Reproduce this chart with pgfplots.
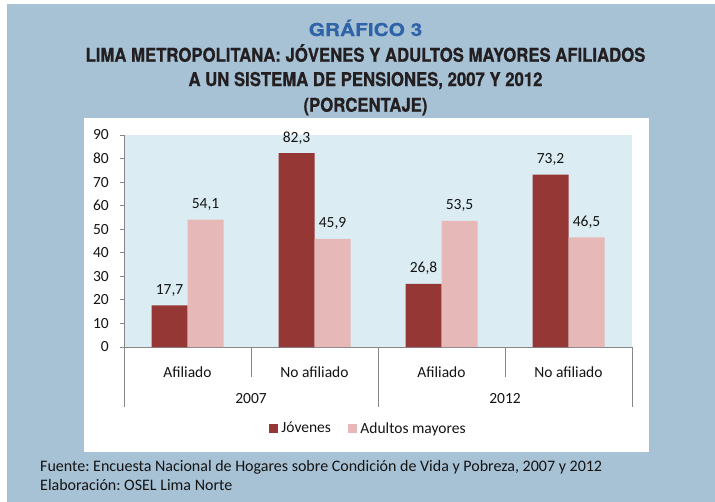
\documentclass[border=0pt]{standalone}
\usepackage{pgfplots}
\pgfplotsset{compat=1.18}
\usepackage{fontspec}
\setmainfont{Carlito}
\newfontfamily\titlefont[FakeStretch=0.88,FakeBold=0.8]{TeX Gyre Heros}
\newfontfamily\gtitlefont[FakeStretch=1.18,FakeBold=0.4]{TeX Gyre Heros}
\definecolor{bgblue}{RGB}{167,193,213}
\definecolor{plotbg}{RGB}{219,237,243}
\definecolor{jov}{RGB}{149,55,53}
\definecolor{adu}{RGB}{230,185,184}
\definecolor{axisgray}{RGB}{134,134,134}
\definecolor{titleblue}{RGB}{46,99,168}
\definecolor{titledark}{RGB}{35,31,32}
\definecolor{txt}{RGB}{20,20,20}
\newcommand{\cf}{\fontsize{15.5bp}{18bp}\selectfont}
\frenchspacing
\begin{document}
\frenchspacing
\begin{tikzpicture}
\fill[white] (0,0) rectangle (715bp,-502bp);
\fill[bgblue] (7bp,-4bp) rectangle (715bp,-502bp);
\fill[white] (84bp,-118bp) rectangle (649bp,-452bp);
\node[anchor=base, inner sep=0pt, text=titleblue, font=\gtitlefont\bfseries\fontsize{17.7bp}{20bp}\selectfont] at (365.5bp,-36bp) {GRÁFICO 3};
\node[anchor=base, inner sep=0pt, text=titledark, font=\titlefont\bfseries\fontsize{19bp}{20bp}\selectfont] at (365.5bp,-61.7bp) {LIMA METROPOLITANA: JÓVENES Y ADULTOS MAYORES AFILIADOS};
\node[anchor=base, inner sep=0pt, text=titledark, font=\titlefont\bfseries\fontsize{19bp}{20bp}\selectfont] at (365.5bp,-86bp) {A UN SISTEMA DE PENSIONES, 2007 Y 2012};
\node[anchor=base, inner sep=0pt, text=titledark, font=\titlefont\bfseries\fontsize{19bp}{20bp}\selectfont] at (365.5bp,-111.7bp) {(PORCENTAJE)};
\begin{axis}[
  at={(124bp,-347bp)}, anchor=south west, scale only axis,
  width=508bp, height=212bp,
  xmin=-0.5, xmax=3.5, ymin=0, ymax=90,
  ybar=0pt, bar width=36bp,
  clip=false,
  axis background/.style={fill=plotbg},
  axis x line*=bottom, axis y line*=left,
  axis line style={-, draw=axisgray, line width=0.8bp},
  xtick={0,1,2,3},
  xticklabels={Afiliado,No afiliado,Afiliado,No afiliado},
  x tick style={draw=none},
  xticklabel style={anchor=base, inner sep=0pt, yshift=-26bp},
  ytick={0,10,...,90},
  y tick style={draw=axisgray, line width=0.8bp},
  tick align=outside, major tick length=4bp,
  yticklabel style={anchor=east, inner sep=0pt, xshift=-11bp},
  tick label style={font=\cf, text=txt},
  /pgf/number format/assume math mode=true,
  nodes near coords={\pgfmathprintnumber[fixed,fixed zerofill,precision=1,use comma,assume math mode=true]{\pgfplotspointmeta}},
  nodes near coords style={font=\cf, text=txt, anchor=base, inner sep=0pt, yshift=11bp},
  legend columns=2,
  legend image code/.code={\fill[#1] (0bp,-4.5bp) rectangle (9bp,4.5bp);},
  legend style={at={(0.285,-0.384)}, anchor=west, draw=none, fill=none, inner sep=0pt,
    font=\cf, text=txt, cells={anchor=west},
    /tikz/every odd column/.append style={column sep=1.5bp},
    /tikz/every even column/.append style={column sep=15bp}},
]
\addplot[fill=jov, draw=none] coordinates {(0,17.7) (1,82.3) (2,26.8) (3,73.2)};
\addlegendentry{Jóvenes}
\addplot[fill=adu, draw=none] coordinates {(0,54.1) (1,45.9) (2,53.5) (3,46.5)};
\addlegendentry{Adultos mayores}
\draw[axisgray, line width=0.8bp] (axis cs:0.5,0) -- ([yshift=-30bp]axis cs:0.5,0);
\draw[axisgray, line width=0.8bp] (axis cs:2.5,0) -- ([yshift=-30bp]axis cs:2.5,0);
\draw[axisgray, line width=0.8bp] (axis cs:-0.5,0) -- ([yshift=-60bp]axis cs:-0.5,0);
\draw[axisgray, line width=0.8bp] (axis cs:1.5,0) -- ([yshift=-60bp]axis cs:1.5,0);
\draw[axisgray, line width=0.8bp] (axis cs:3.5,0) -- ([yshift=-60bp]axis cs:3.5,0);
\node[anchor=base, inner sep=0pt, font=\cf, text=txt] at (axis cs:0.5,0) [yshift=-56bp] {2007};
\node[anchor=base, inner sep=0pt, font=\cf, text=txt] at (axis cs:2.5,0) [yshift=-56bp] {2012};
\end{axis}
\node[anchor=base west, inner sep=0pt, font=\fontsize{16bp}{19bp}\selectfont, text=txt] at (40bp,-471.7bp) {Fuente: Encuesta Nacional de Hogares sobre Condición de Vida y Pobreza, 2007 y 2012};
\node[anchor=base west, inner sep=0pt, font=\fontsize{16bp}{19bp}\selectfont, text=txt] at (40bp,-490bp) {Elaboración: OSEL Lima Norte};
\end{tikzpicture}
\end{document}
